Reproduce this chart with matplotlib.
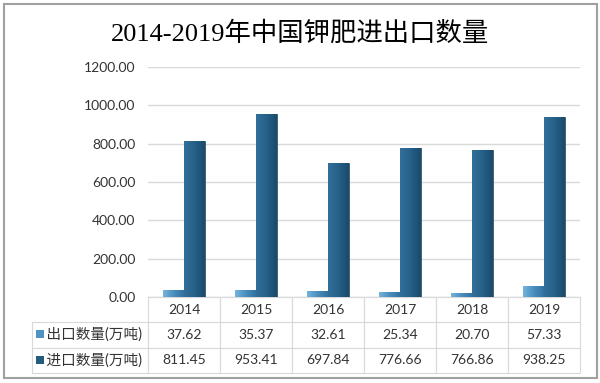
import matplotlib.pyplot as plt
import numpy as np
from matplotlib.patches import Rectangle
from matplotlib.colors import LinearSegmentedColormap

years = ['2014', '2015', '2016', '2017', '2018', '2019']
export_vals = [37.62, 35.37, 32.61, 25.34, 20.70, 57.33]
import_vals = [811.45, 953.41, 697.84, 776.66, 766.86, 938.25]
labels = ['出口数量(万吨)', '进口数量(万吨)']
colors = ['#4f93c2', '#245a7e']
grads = [['#74b4dc', '#4a8fbf', '#33729f'], ['#32709a', '#26608a', '#1b4a6a']]

W, H = 600, 383
fig = plt.figure(figsize=(W / 100, H / 100), dpi=100)
fig.patch.set_facecolor('white')

# outer frame
fig.patches.append(Rectangle((4 / W, 5 / H), 593 / W, 374 / H, transform=fig.transFigure,
                             fill=False, edgecolor='#a0a0a0', linewidth=1.5))

ax = fig.add_axes([148 / W, 1 - 297 / H, 432 / W, 230 / H])
x = np.arange(len(years))
bw = 0.29
b1 = ax.bar(x - bw / 2, export_vals, bw, color=colors[0], edgecolor='#3a7aa6', linewidth=0.5, zorder=3)
b2 = ax.bar(x + bw / 2, import_vals, bw, color=colors[1], edgecolor='#1d4a69', linewidth=0.5, zorder=3)

# shade bars with a left-to-right gradient
g = np.linspace(0, 1, 64).reshape(1, -1)
for bars, gc in zip([b1, b2], grads):
    cmap = LinearSegmentedColormap.from_list('g', gc)
    for b in bars:
        bx, by = b.get_x(), b.get_y()
        im = ax.imshow(g, cmap=cmap, aspect='auto', zorder=3.5,
                       extent=[bx, bx + b.get_width(), by, by + b.get_height()])
        im.set_clip_path(b)

ax.set_xlim(-0.5, len(years) - 0.5)
ax.set_ylim(0, 1200)
ax.set_yticks(np.arange(0, 1201, 200))
ax.set_yticklabels(['%.2f' % v for v in np.arange(0, 1201, 200)],
                   fontsize=10, family='Lato', color='#333333')
ax.tick_params(axis='y', length=0, pad=9)
ax.set_xticks([])
ax.grid(axis='y', color='#d9d9d9', linewidth=1, zorder=0)
for s in ['top', 'right', 'left']:
    ax.spines[s].set_visible(False)
ax.spines['bottom'].set_color('#d9d9d9')

fig.text(0.5, 1 - 33 / H, '2014-2019年中国钾肥进出口数量', ha='center', va='center',
         fontsize=19, family=['Liberation Serif', 'Noto Sans CJK SC'])

# data table under the axes
cell_text = [['  ' + labels[0]] + ['%.2f' % v for v in export_vals],
             ['  ' + labels[1]] + ['%.2f' % v for v in import_vals]]
lab_w = (148 - 32) / 432
tbl = ax.table(cellText=cell_text, colLabels=[''] + years,
               colWidths=[lab_w] + [1 / 6] * 6, cellLoc='center',
               bbox=[-lab_w, -(373 - 297) / 230, 1 + lab_w, (373 - 297) / 230])
tbl.auto_set_font_size(False)
for (r, c), cell in tbl.get_celld().items():
    cell.set_edgecolor('#d9d9d9')
    cell.set_linewidth(0.8)
    cell.get_text().set_fontsize(10)
    cell.get_text().set_family(['Lato', 'Noto Sans CJK SC'])
    cell.get_text().set_color('#333333')
    if r == 0 and c == 0:
        cell.visible_edges = ''
    if c == 0 and r > 0:
        cell.get_text().set_ha('left')
        cell._loc = 'left'
        cell.PAD = 0.06
        cell.get_text().set_fontsize(10.5)

# legend keys in the label column
for i, col in enumerate(colors):
    yc = [334, 360][i]
    fig.patches.append(Rectangle((36 / W, 1 - (yc + 4) / H), 8 / W, 8 / H,
                                 transform=fig.transFigure, facecolor=col,
                                 edgecolor='none'))

fig.savefig('out.png', dpi=100)
